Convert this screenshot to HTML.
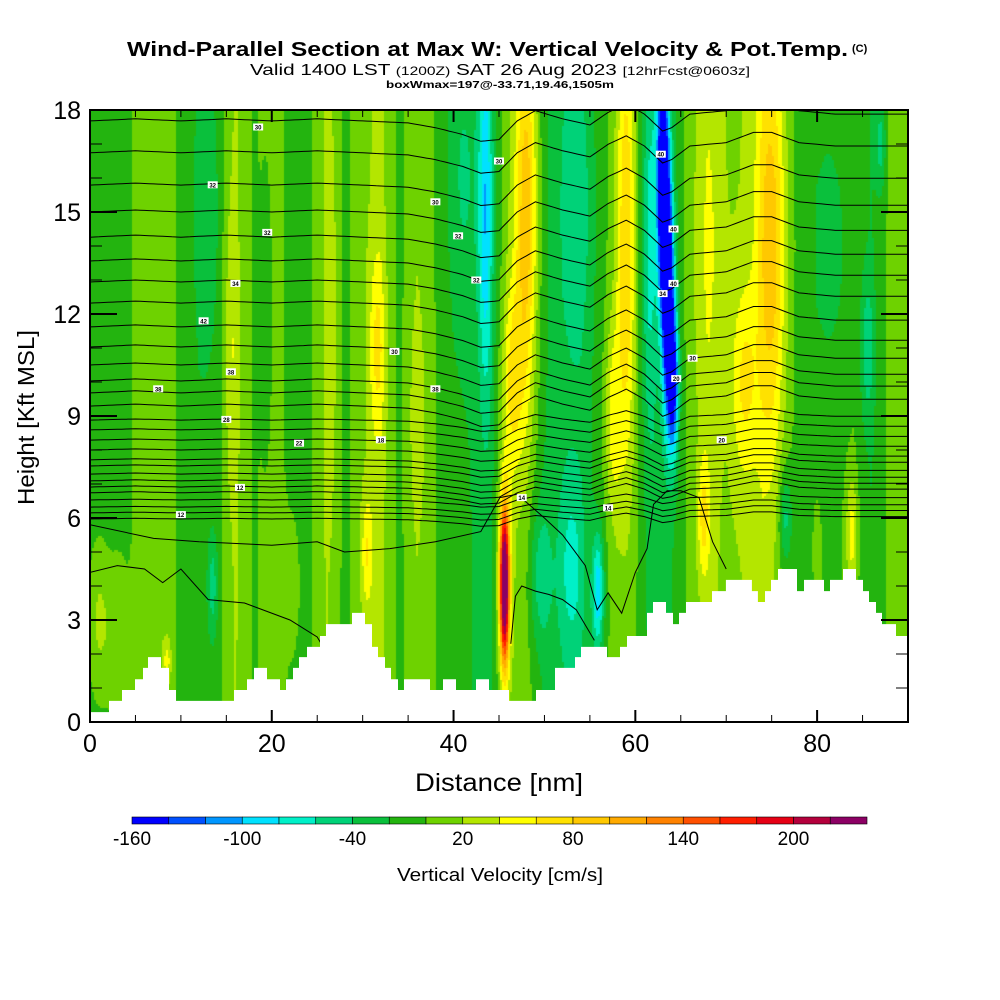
<!DOCTYPE html>
<html><head><meta charset="utf-8"><style>
body{margin:0;background:#fff;width:1000px;height:1000px;overflow:hidden;font-family:"Liberation Sans",sans-serif}
#wrap{position:relative;width:1000px;height:1000px}
canvas{position:absolute;left:90px;top:110px}
svg{position:absolute;left:0;top:0}
</style></head><body><div id="wrap">
<canvas id="field" width="818" height="612"></canvas>
<svg id="svg" width="1000" height="1000">
<defs><clipPath id="plotclip"><rect x="90" y="110" width="818" height="612"/></clipPath></defs>
<text x="127" y="56" font-size="20" font-weight="bold" textLength="721" lengthAdjust="spacingAndGlyphs">Wind-Parallel Section at Max W: Vertical Velocity &amp; Pot.Temp.</text>
<text x="852" y="52" font-size="11" font-weight="bold">(C)</text>
<text x="250" y="75" font-size="16" textLength="500" lengthAdjust="spacingAndGlyphs">Valid 1400 LST <tspan font-size="12">(1200Z)</tspan> SAT 26 Aug 2023 <tspan font-size="12">[12hrFcst@0603z]</tspan></text>
<text x="386" y="88" font-size="10" font-weight="bold" textLength="228" lengthAdjust="spacingAndGlyphs">boxWmax=197@-33.71,19.46,1505m</text>
<g id="contours" clip-path="url(#plotclip)"></g>
<g id="terrain"></g>
<g id="axes"></g>
<text x="415" y="791" font-size="25" textLength="168" lengthAdjust="spacingAndGlyphs">Distance [nm]</text>
<text transform="translate(34,505) rotate(-90)" font-size="23" textLength="175" lengthAdjust="spacingAndGlyphs">Height [Kft MSL]</text>
<g id="cbar"></g>
<text x="397" y="881" font-size="18" textLength="206" lengthAdjust="spacingAndGlyphs">Vertical Velocity [cm/s]</text>
</svg></div>
<script>
const colors=["#0000ff","#0050ff","#0096ff","#00e1ff","#00f0c8","#00d278","#0ac03c","#23b40f","#6ed200","#b4e600","#ffff00","#ffe100","#ffc800","#ffaa00","#ff8200","#ff5000","#ff1e00","#e60014","#b4003c","#8c0064"];
const cbLabels=[-160,-100,-40,20,80,140,200];
const xTicks=[0,20,40,60,80];
const yTicks=[0,3,6,9,12,15,18];
// base vertical velocity per 2 nm
const baseW=[-8,-8,-5,10,12,-5,-15,-10,22,-3,10,-5,-5,20,-5,15,25,-5,15,0,-15,-20,-25,10,10,-20,-30,-30,-10,10,0,-30,-20,5,25,15,20,25,5,-8,-15,-5,0,-20,5,10];
// blobs: x nm, z kft, sx, sz, amplitude
const blobX=[63.0,63.6,64.2,43.5,41,48,46.5,45.6,45.6,59,57.5,75,72,31.6,30.5,67.5,83.8,55.9,53,49.5,76.5,85.5,87,53.5,61.5,68,82,15.5,1,8.5,26.5,36,12.8,19.5,13.5,80,3,22];
const blobZ=[16,12.5,10,15,16,15,10,4,4.3,14,9,14,10,11,5,6,5.5,3.8,4.5,4.3,6,11,17,15,14,14,14,11,3,1.8,12,9,15,12,4,5,2.5,4];
const blobSX=[0.45,0.45,0.4,0.55,1.2,0.9,0.8,0.35,0.6,0.7,0.6,1.1,1.0,0.6,0.45,0.45,0.45,0.45,1.0,0.9,0.5,0.5,0.4,1.2,0.5,1.3,1.3,0.5,0.8,0.35,0.45,0.7,0.9,0.45,0.35,0.35,0.9,0.7];
const blobSZ=[2.5,2.5,1.5,4,3,4,2,1.6,2,5,2,4.5,2,2,1.2,1.2,1.2,1.2,2,1.5,1,1.5,1,3,4,4,3,3,1.5,0.5,4,2.5,3,3,1,1.2,1.5,1.5];
const blobA=[-180,-180,-130,-75,-25,85,55,240,50,75,45,80,45,45,45,50,50,-85,-40,-40,-50,-40,-40,-30,-45,20,-20,25,30,40,25,20,-25,-20,-40,35,25,15];
// terrain steps
const terrX=[0,2.09,3.52,4.95,5.83,6.38,7.81,8.69,9.46,15.84,17.27,18.04,19.47,20.9,21.56,22.33,22.99,23.87,25.31,25.97,28.83,30.26,31.03,31.69,32.46,33.12,33.89,34.55,37.41,38.84,40.27,42.47,43.9,46.1,49.07,51.16,53.36,54.02,56.88,58.31,59.08,61.28,61.94,63.37,64.14,64.8,65.57,68.43,69.97,72.83,73.49,74.27,74.93,75.7,77.79,78.56,80.76,81.42,82.85,84.28,85.05,85.71,86.48,87.14,88.68];
const terrH=[0.29,0.62,0.94,1.26,1.59,1.91,1.59,0.94,0.62,0.94,1.26,1.59,1.26,0.94,1.26,1.59,1.91,2.21,2.53,2.88,3.21,2.88,2.21,1.91,1.59,1.26,0.94,1.26,0.94,1.26,0.94,1.26,0.94,0.62,0.94,1.59,1.91,2.21,1.91,2.21,2.53,3.21,3.53,3.21,2.88,3.21,3.53,3.85,4.18,3.85,3.53,3.85,4.18,4.5,3.85,4.18,3.85,4.18,4.5,4.18,3.85,3.53,3.21,2.88,2.53];
// isentrope base heights (kft)
const thetaLevels=[17.68,16.74,15.79,15.0,14.26,13.56,12.94,12.32,11.62,11.03,10.5,10.03,9.68,9.29,8.88,8.59,8.29,8.0,7.71,7.53,7.29,7.09,6.91,6.74,6.53,6.32,6.15,5.97];
const dispX=[0,5,10,15,20,25,30,35,38,41,43,45,47,49,52,55,57,59,61,63,64,66,70,73,75,78,82,86,90];
const dispZ=[0,0.06,0,0.06,0,0.06,0,-0.06,-0.2,-0.4,-0.6,-0.55,0,0.3,0.06,-0.12,0.25,0.5,0.2,-0.3,-0.2,0.2,0.3,0.6,0.6,0.3,0.2,0.2,0.2];
const lowAX=[0,7,12,20,25,28,33,38,43,45.1,47,50,52,54.5,55.8,57,58.5,60,61.3,62,63.5,65,67,68.5,70];
const lowAZ=[5.8,5.4,5.3,5.2,5.3,5.0,5.1,5.3,5.6,6.6,6.7,6.0,5.5,4.6,3.3,3.8,3.2,4.4,5.1,6.4,6.8,6.8,6.6,5.3,4.5];
const lowBX=[0,3,6,8,10,13,17,22,25,27];
const lowBZ=[4.4,4.6,4.5,4.1,4.5,3.6,3.5,3.0,2.5,1.6];
const lowCX=[46.3,46.8,47.5,49,50.5,52,53.5,55.5];
const lowCZ=[2.3,3.7,4.0,3.85,3.75,3.6,3.3,2.4];
const labelX=[18.5,45,13.5,38,19.5,40.5,16,42.5,12.5,33.5,15.5,7.5,38,15,23,32,62.8,64.2,64.2,63,66.3,64.5,69.5,47.5,16.5,10,57];
const labelZ=[17.5,16.5,15.8,15.3,14.4,14.3,12.9,13.0,11.8,10.9,10.3,9.8,9.8,8.9,8.2,8.3,16.7,14.5,12.9,12.6,10.7,10.1,8.3,6.6,6.9,6.1,6.3];
const labelT=["30","30","32","30","32","32","34","32","42","30","38","38","38","28","22","18","40","40","40","34","30","20","20","14","12","12","14"];

const X=v=>90+v*818/90, Y=v=>722-v*34;
const NS="http://www.w3.org/2000/svg";
function mk(tag,attrs,parent){const e=document.createElementNS(NS,tag);for(const k in attrs)e.setAttribute(k,attrs[k]);parent.appendChild(e);return e;}
function interp(xs,ys,x){if(x<=xs[0])return ys[0];for(let i=1;i<xs.length;i++){if(x<=xs[i]){const t=(x-xs[i-1])/(xs[i]-xs[i-1]);return ys[i-1]+t*(ys[i]-ys[i-1]);}}return ys[ys.length-1];}
function wAt(x,z){let i=x/2,i0=Math.floor(i),t=i-i0;let b=baseW[Math.min(i0,45)]*(1-t)+baseW[Math.min(i0+1,45)]*t;
 for(let k=0;k<blobX.length;k++){const dx=(x-blobX[k])/blobSX[k],dz=(z-blobZ[k])/blobSZ[k];b+=blobA[k]*Math.exp(-0.5*(dx*dx+dz*dz));}return b;}
// field
const cv=document.getElementById('field'),ctx=cv.getContext('2d');
for(let px=0;px<818;px+=2){for(let py=0;py<612;py+=2){const x=(px+1)*90/818,z=(612-py-1)/34;let k=Math.floor((wAt(x,z)+160)/20);k=Math.max(0,Math.min(19,k));ctx.fillStyle=colors[k];ctx.fillRect(px,py,2,2);}}
// contours
const cg=document.getElementById('contours');
thetaLevels.forEach((z0,i)=>{let pts=[];const sc=z0>9?1:(z0>6.6?0.55:0.35);
 for(let x=0;x<=90;x+=0.5){pts.push(X(x).toFixed(1)+','+Y(z0+sc*interp(dispX,dispZ,x)).toFixed(1));}
 const p=mk('polyline',{points:pts.join(' '),fill:'none',stroke:'#000','stroke-width':1},cg);
 
 });
[[lowAX,lowAZ],[lowBX,lowBZ],[lowCX,lowCZ]].forEach((L,i)=>{const pts=L[0].map((x,j)=>X(x).toFixed(1)+','+Y(L[1][j]).toFixed(1));
 const p=mk('polyline',{points:pts.join(' '),fill:'none',stroke:'#000','stroke-width':1},cg);
 
 });
labelX.forEach((x,i)=>{const g=mk('g',{},cg);
 
 
 mk('rect',{x:X(x)-5,y:Y(labelZ[i])-3.5,width:10,height:7,fill:'#fff'},g);
 mk('text',{x:X(x),y:Y(labelZ[i])+2.5,'font-size':6,'font-weight':'bold','text-anchor':'middle'},g).textContent=labelT[i];});
// terrain
const tg=document.getElementById('terrain');let d='M'+X(0)+','+Y(0);
terrX.forEach((x,i)=>{const x2=i<terrX.length-1?terrX[i+1]:90;d+=' L'+X(x).toFixed(1)+','+Y(terrH[i]).toFixed(1)+' L'+X(x2).toFixed(1)+','+Y(terrH[i]).toFixed(1);});
d+=' L'+X(90)+','+Y(0)+'Z';
const tp=mk('path',{d:d,fill:'#fff'},tg);


// axes
const ag=document.getElementById('axes');
mk('rect',{x:90,y:110,width:818,height:612,fill:'none',stroke:'#000','stroke-width':2},ag);
for(let v=0;v<=90;v+=5){const maj=v%20===0;const L=maj?12:7;
 mk('line',{x1:X(v),y1:722,x2:X(v),y2:722-L,stroke:'#000','stroke-width':maj?2:1},ag);
 mk('line',{x1:X(v),y1:110,x2:X(v),y2:110+L,stroke:'#000','stroke-width':maj?2:1},ag);}
for(let v=0;v<=18;v++){const maj=v%3===0;const L=maj?27:12;
 mk('line',{x1:90,y1:Y(v),x2:90+L,y2:Y(v),stroke:'#000','stroke-width':maj?2:1},ag);
 mk('line',{x1:908,y1:Y(v),x2:908-L,y2:Y(v),stroke:'#000','stroke-width':maj?2:1},ag);}
xTicks.forEach(v=>{const t=mk('text',{x:X(v),y:752,'font-size':25,'text-anchor':'middle'},ag);t.textContent=v;
 
 });
yTicks.forEach(v=>{const t=mk('text',{x:81,y:Y(v)+9,'font-size':25,'text-anchor':'end'},ag);t.textContent=v;
 
 });
// colorbar
const cb=document.getElementById('cbar');const w=735/20;
colors.forEach((c,i)=>{const r=mk('rect',{x:132+i*w,y:817,width:w,height:7,fill:c,stroke:'#000','stroke-width':0.6},cb);
 
 });
cbLabels.forEach(v=>{const t=mk('text',{x:132+(v+160)/20*w,y:845,'font-size':19,'text-anchor':'middle'},cb);t.textContent=v;
 
 });
</script></body></html>
